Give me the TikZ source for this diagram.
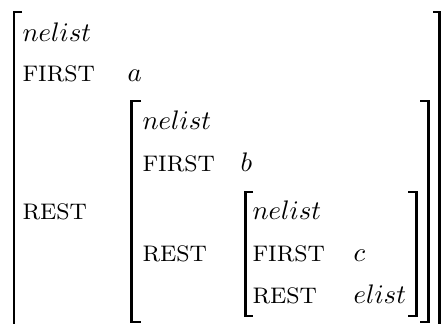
\documentclass[tikz,border=0pt]{standalone}
\usepackage{tikz}
\begin{document}
\begin{tikzpicture}[x=0.373pt,y=-0.373pt,every node/.style={inner sep=0pt,anchor=base west}]
  \tikzstyle{attr}=[font=\fontsize{8.4}{10}\selectfont];
  \tikzstyle{br}=[line width=1.1pt,line join=miter];
  \useasboundingbox (0,0) rectangle (441,324);
  % outer matrix
  \node (n1) at (22,42) {$nelist$};
  \node[attr] (f1) at (22,82) {FIRST};
  \node (va) at (127,82) {$a$};
  \node[attr] (r1) at (22,220) {REST};
  \draw[br] (22,12) -- (14,12) -- (14,324);
  \draw[br] (433,12) -- (439.5,12) -- (439.5,324);
  % middle matrix
  \node (n2) at (142,130) {$nelist$};
  \node[attr] (f2) at (142,172) {FIRST};
  \node (vb) at (240,172) {$b$};
  \node[attr] (r2) at (142,262) {REST};
  \draw[br] (141,101) -- (131.5,101) -- (131.5,322) -- (141,322);
  \draw[br] (420,101) -- (428.5,101) -- (428.5,322) -- (420,322);
  % inner matrix
  \node (n3) at (252,220) {$nelist$};
  \node[attr] (f3) at (252,262) {FIRST};
  \node (vc) at (353,262) {$c$};
  \node[attr] (r3) at (252,303) {REST};
  \node (ve) at (353,303) {$elist$};
  \draw[br] (253,192) -- (245.5,192) -- (245.5,316) -- (253,316);
  \draw[br] (408,192) -- (416.5,192) -- (416.5,316) -- (408,316);
\end{tikzpicture}
\end{document}
